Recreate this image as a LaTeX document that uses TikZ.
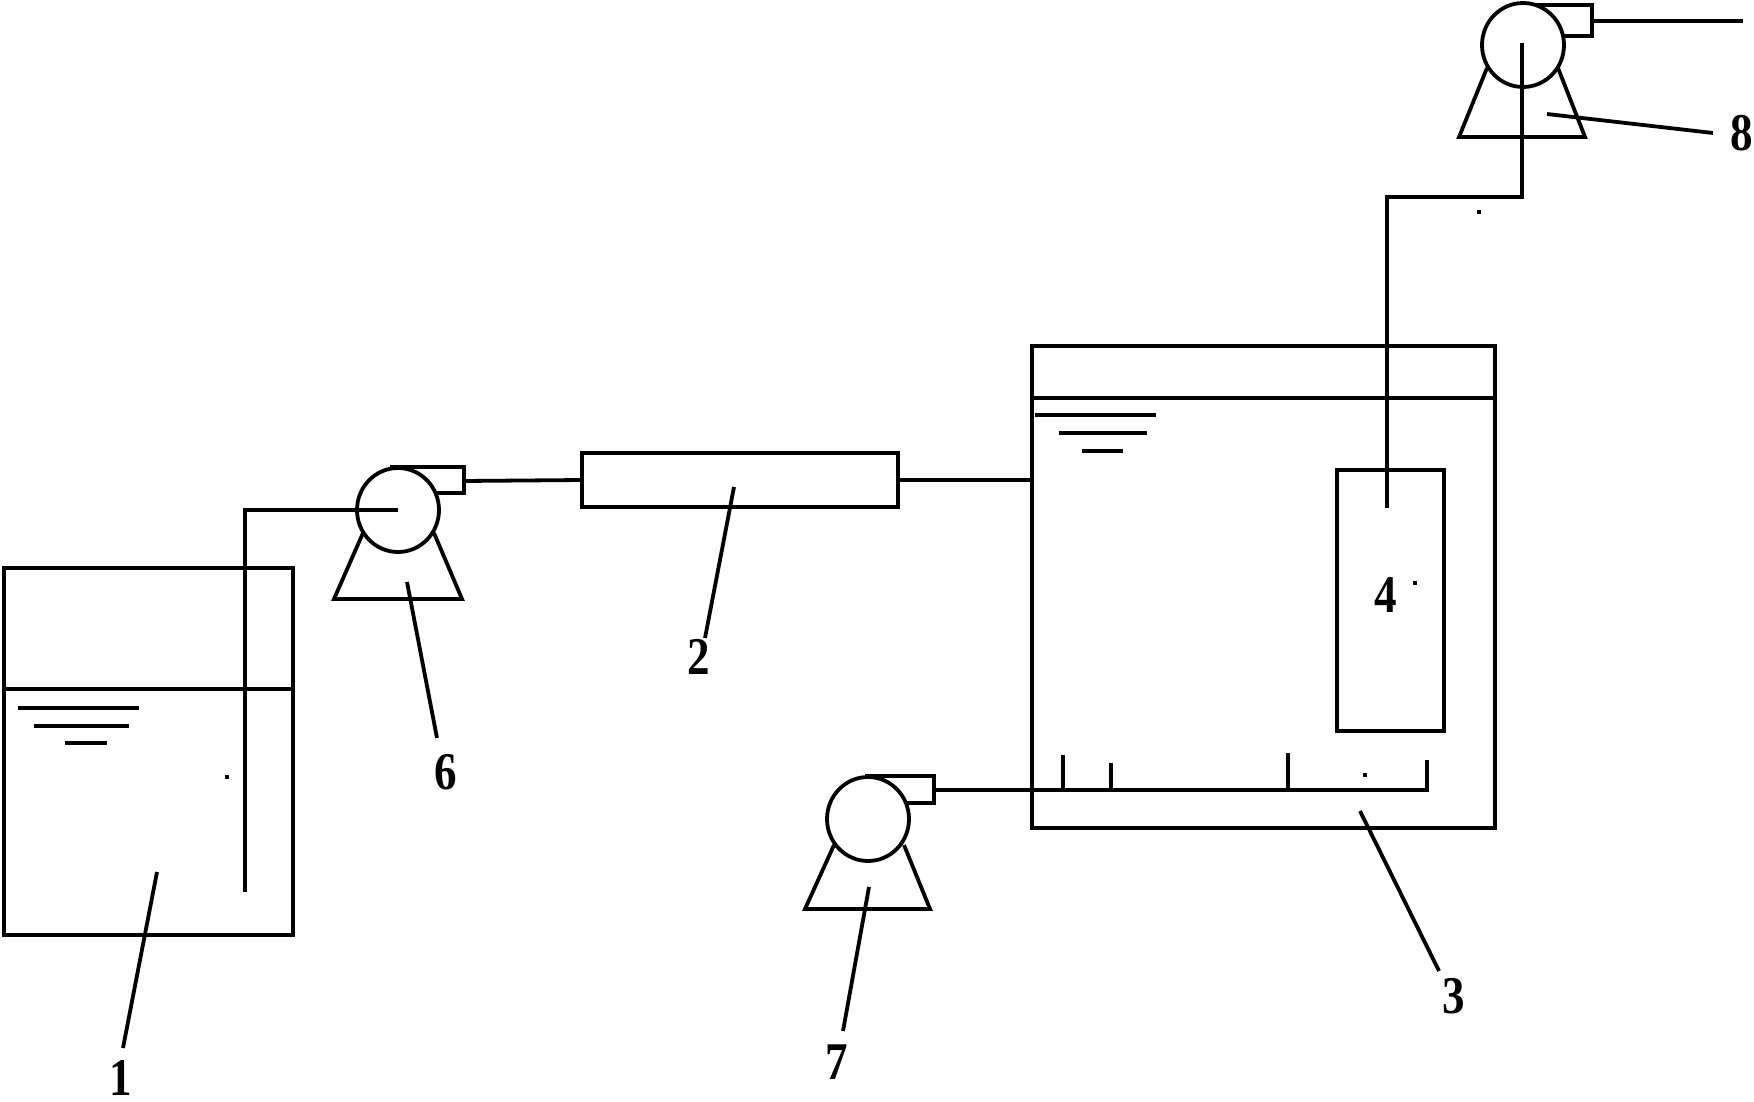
\documentclass[tikz,border=0pt]{standalone}
\usepackage{fontspec}
\usetikzlibrary{shapes.geometric}
\setmainfont{Liberation Serif}
\begin{document}
\begin{tikzpicture}[x=1pt,y=-1pt,
  ln/.style={line width=3.8pt,line cap=butt,line join=miter,black},
  vessel/.style={draw,ln,rectangle,inner sep=0pt,outer sep=0pt,fill=none},
  pumpbody/.style={draw,ln,ellipse,inner sep=0pt,outer sep=0pt,minimum width=82pt,minimum height=84pt,fill=white},
  tag/.style={font=\fontsize{53}{53}\selectfont\bfseries,inner sep=0pt,xscale=0.85},
  speck/.style={fill=black,minimum size=3.5pt,inner sep=0pt,draw=none,rectangle}]
\useasboundingbox (0,0) rectangle (1754,1102);
\fill[white] (0,0) rectangle (1754,1102);

% named points
\coordinate (in6c) at (245,510);
\coordinate (in6e) at (245,892);
\coordinate (in8a) at (1522,197);
\coordinate (in8b) at (1387,197);
\coordinate (in8e) at (1387,508);
\coordinate (out8e) at (1743,21);
\coordinate (hdrE) at (1427,790);

% vessels
\node[vessel,minimum width=289pt,minimum height=367pt] (tank1) at (148.5,751.5) {};
\node[vessel,minimum width=463pt,minimum height=482pt] (tank3) at (1263.5,587) {};
\node[vessel,minimum width=316pt,minimum height=54pt] (col2) at (740,480) {};
\node[vessel,minimum width=107pt,minimum height=261pt] (mem4) at (1390.5,600.5) {};

% water levels
\draw[ln] (tank1.west |- 0,689) coordinate (w1a) -- (w1a -| tank1.east);
\draw[ln] (tank3.west |- 0,398) coordinate (w3a) -- (w3a -| tank3.east);
\draw[ln] (18,708) -- (139,708);
\draw[ln] (34,726) -- (129,726);
\draw[ln] (65,743) -- (107,743);
\draw[ln] (1035,415) -- (1156,415);
\draw[ln] (1059,433) -- (1147,433);
\draw[ln] (1082,451) -- (1123,451);

% pump 6
\draw[ln] (363,533) -- (334,599) -- (462,599) -- (434,533);
\draw[ln] (390,467) -- (464,467) -- (464,493) -- (437,493);
\node[pumpbody] (pump6) at (398,510) {};
\coordinate (out6) at (464,481);
% pump 7
\draw[ln] (834,845) -- (805,909) -- (930,909) -- (904,845);
\draw[ln] (865,776) -- (934,776) -- (934,803) -- (907,803);
\node[pumpbody] (pump7) at (868,819) {};
\coordinate (out7) at (934,790);
% pump 8
\draw[ln] (1487,68) -- (1459,137) -- (1585,137) -- (1558,68);
\draw[ln] (1533,5) -- (1592,5) -- (1592,36) -- (1562,36);
\node[pumpbody] (pump8) at (1523,45) {};
\coordinate (out8) at (1592,21);

% pipes
\draw[ln] (pump6.center) -- (in6c) -- (in6e);
\draw[ln] (out6) -- (col2.west);
\draw[ln] (col2.east) -- (col2.east -| tank3.west);
\draw[ln] (pump8.center) ++(-1,-2) -- (in8a) -- (in8b) -- (in8e);
\draw[ln] (out8) -- (out8e);
\draw[ln] (out7) -- (hdrE);

% aerator risers
\draw[ln] (1063,790) -- (1063,755);
\draw[ln] (1111,790) -- (1111,763);
\draw[ln] (1288,790) -- (1288,753);
\draw[ln] (1427,791.9) -- (1427,760);

% labels
\node[tag] (t1) at (121,1078) {1};
\node[tag] (t2) at (699,657) {2};
\node[tag] (t3) at (1454,996) {3};
\node[tag] (t4) at (1386,595) {4};
\node[tag] (t6) at (446,772) {6};
\node[tag] (t7) at (837,1062) {7};
\node[tag] (t8) at (1742,133) {8};

% leaders
\draw[ln] (157,872) -- (123,1048);
\draw[ln] (734,487) -- (705,638);
\draw[ln] (1360,811) -- (1439,971);
\draw[ln] (407,582) -- (437,738);
\draw[ln] (869,887) -- (843,1031);
\draw[ln] (1547,114) -- (1713,133);

% specks
\node[speck] (s1) at (227,777) {};
\node[speck] (s2) at (1479,212) {};
\node[speck] (s3) at (1365,775) {};
\node[speck] (s4) at (1415,583) {};
\end{tikzpicture}
\end{document}
